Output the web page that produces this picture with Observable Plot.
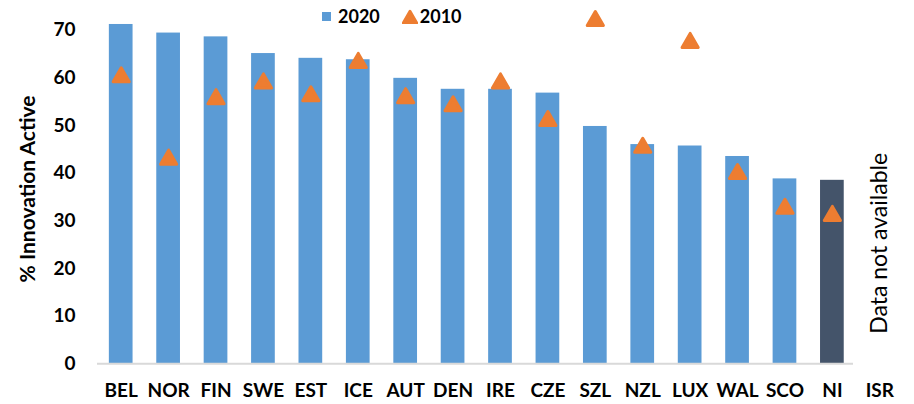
<!DOCTYPE html>
<html><head><meta charset="utf-8">
<script src="https://cdn.jsdelivr.net/npm/d3@7"></script>
<script src="https://cdn.jsdelivr.net/npm/@observablehq/plot@0.6"></script>
<style>
body{margin:0;background:#fff;}
#wrap{position:relative;width:914px;height:404px;font-family:Lato,sans-serif;}
#legend{position:absolute;left:322px;top:4px;height:24px;display:flex;align-items:center;font-weight:700;font-size:18px;color:#000;z-index:2;}
#legend .sw{display:inline-block;width:9px;height:9px;background:#5B9BD5;margin-right:7px;}
#legend svg{margin-left:22px;margin-right:2px;}
</style></head><body><div id="wrap"><div id="legend"></div></div>
<script>
const countries = ["BEL","NOR","FIN","SWE","EST","ICE","AUT","DEN","IRE","CZE","SZL","NZL","LUX","WAL","SCO","NI","ISR"];
const values2020 = [71.2, 69.4, 68.6, 65.1, 64.1, 63.8, 59.9, 57.6, 57.6, 56.8, 49.8, 46.0, 45.7, 43.5, 38.8, 38.5, null];
const values2010 = [60.8, 43.5, 56.2, 59.5, 56.8, 63.8, 56.4, 54.7, 59.5, 51.6, 72.6, 46.0, 68.0, 40.5, 33.2, 31.7, null];
const highlighted = ["NI"];
const seriesNames = ["2020", "2010"];
const yTicks = [0, 10, 20, 30, 40, 50, 60, 70];
const yLabel = "% Innovation Active";
const noteCountry = ["ISR"];
const noteText = ["Data not available"];

const blue = "#5B9BD5", dark = "#44546A", orange = "#ED7D31";

const bars = countries.map((c, i) => ({country: c, value: values2020[i]})).filter(d => d.value != null);
const tris = countries.map((c, i) => ({country: c, value: values2010[i]})).filter(d => d.value != null);
const notes = noteCountry.map((c, i) => ({country: c, text: noteText[i], value: 0}));

const chart = Plot.plot({
  width: 914,
  height: 404,
  marginLeft: 97,
  marginRight: 11,
  marginTop: 29.7,
  marginBottom: 40.7,
  style: {fontFamily: "Lato, sans-serif", fontWeight: 700, fontSize: "19px", color: "#000", background: "transparent"},
  x: {domain: countries, paddingInner: 0.5, paddingOuter: 0.25, round: false, label: null},
  y: {domain: [0, 70], label: null},
  marks: [
    Plot.barY(bars.filter(d => !highlighted.includes(d.country)), {x: "country", y: "value", fill: blue}),
    Plot.barY(bars.filter(d => highlighted.includes(d.country)), {x: "country", y: "value", fill: dark}),
    Plot.ruleY([0], {stroke: "#D9D9D9", strokeWidth: 2, insetRight: 50}),
    Plot.axisY({ticks: yTicks, tickSize: 0, tickPadding: 22, label: null, fontSize: 19, fontWeight: 700, fill: "#000"}),
    Plot.axisX({tickSize: 0, tickPadding: 20, label: null, fontSize: 19, fontWeight: 700, fill: "#000"}),
    Plot.dot(tris, {x: "country", y: "value", symbol: "triangle", r: 6, fill: orange, stroke: orange, strokeWidth: 3, strokeLinejoin: "round", dy: 3}),
    Plot.text(notes, {x: "country", y: "value", text: "text", rotate: -90, textAnchor: "start", dy: -30, fontSize: 23, fontWeight: 400, fill: "#000"}),
    Plot.text([yLabel], {frameAnchor: "left", textAnchor: "middle", rotate: -90, dx: -69, dy: -8, fontSize: 21, fontWeight: 700, fill: "#000"})
  ]
});
document.getElementById("wrap").prepend(chart);

const legend = document.getElementById("legend");
legend.innerHTML =
  `<span class="sw"></span><span>${seriesNames[0]}</span>` +
  `<svg width="16" height="15" viewBox="-8 -9 16 15"><path d="M0,-7 L7,5 L-7,5 Z" fill="${orange}" stroke="${orange}" stroke-width="2.5" stroke-linejoin="round"/></svg>` +
  `<span>${seriesNames[1]}</span>`;
chart.style.position = "absolute";
chart.style.left = "0";
chart.style.top = "0";
</script>
</body></html>
